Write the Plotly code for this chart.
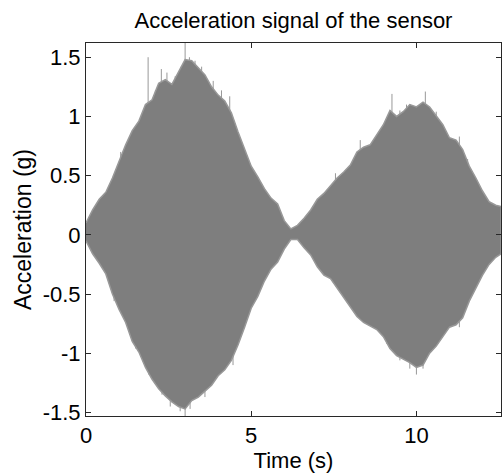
import plotly.graph_objects as go

# Envelope of the acceleration signal
time_s = [0.0, 0.2, 0.4, 0.6, 0.8, 1.0, 1.2, 1.4, 1.6, 1.8, 2.0, 2.2, 2.4, 2.6, 2.8,
          3.0, 3.2, 3.4, 3.6, 3.8, 4.0, 4.2, 4.4, 4.6, 4.8, 5.0, 5.2, 5.4, 5.6, 5.8,
          6.0, 6.2, 6.4, 6.6, 6.8, 7.0, 7.2, 7.4, 7.6, 7.8, 8.0, 8.2, 8.4, 8.6, 8.8,
          9.0, 9.2, 9.4, 9.6, 9.8, 10.0, 10.2, 10.4, 10.6, 10.8, 11.0, 11.2, 11.4,
          11.6, 11.8, 12.0, 12.2, 12.4, 12.56]
upper_g = [0.10, 0.21, 0.30, 0.36, 0.48, 0.62, 0.76, 0.88, 0.96, 1.10, 1.14, 1.28, 1.31, 1.27, 1.38,
           1.48, 1.47, 1.41, 1.35, 1.25, 1.18, 1.13, 1.03, 0.87, 0.72, 0.58, 0.49, 0.39, 0.31, 0.26,
           0.12, 0.05, 0.08, 0.14, 0.21, 0.30, 0.35, 0.42, 0.48, 0.53, 0.59, 0.70, 0.74, 0.76, 0.84,
           0.93, 1.05, 1.00, 1.04, 1.10, 1.08, 1.12, 1.08, 1.00, 0.93, 0.82, 0.80, 0.72,
           0.58, 0.48, 0.37, 0.28, 0.25, 0.24]
lower_g = [-0.05, -0.16, -0.24, -0.33, -0.50, -0.63, -0.74, -0.90, -0.99, -1.12, -1.22, -1.30, -1.36, -1.41, -1.45,
           -1.47, -1.40, -1.37, -1.32, -1.27, -1.19, -1.14, -1.06, -0.93, -0.78, -0.62, -0.52, -0.39, -0.29, -0.23,
           -0.12, -0.04, -0.04, -0.11, -0.17, -0.27, -0.34, -0.37, -0.46, -0.53, -0.61, -0.69, -0.74, -0.77, -0.80,
           -0.86, -0.96, -1.02, -1.05, -1.08, -1.12, -1.10, -1.00, -0.94, -0.86, -0.78, -0.76, -0.70,
           -0.56, -0.45, -0.34, -0.25, -0.19, -0.16]

# Individual spikes poking out of the envelope
spike_t = [1.05, 1.88, 2.1, 2.28, 2.45, 2.7, 2.88, 3.0, 3.13, 3.3, 3.5, 3.85, 4.1, 4.35,
           7.55, 8.3, 8.9, 9.26, 9.5, 9.7, 10.27, 10.6, 11.3, 11.55,
           0.85, 1.5, 1.9, 2.3, 2.55, 2.85, 3.0, 3.15, 3.6, 4.45, 9.1, 9.5, 9.8, 10.0, 10.2, 11.3]
spike_g = [0.70, 1.50, 1.22, 1.40, 1.37, 1.34, 1.42, 1.63, 1.50, 1.47, 1.42, 1.30, 1.22, 1.17,
           0.52, 0.80, 0.88, 1.19, 1.05, 1.10, 1.21, 1.04, 0.83, 0.64,
           -0.56, -0.96, -1.18, -1.35, -1.45, -1.49, -1.54, -1.47, -1.37, -1.10, -0.92, -1.06, -1.13, -1.18, -1.13, -0.78]

x_ticks = [0, 5, 10]
y_ticks = [-1.5, -1, -0.5, 0, 0.5, 1, 1.5]
y_tick_text = ["-1.5", "-1", "-0.5", "0", "0.5", "1", "1.5"]

FONT = "Liberation Sans, Arial, Helvetica, sans-serif"
BODY = "rgb(126,126,126)"
EDGE = "rgb(152,152,152)"

fig = go.Figure()

# spikes (drawn first so the body hides their inner part)
sx, sy = [], []
for t, v in zip(spike_t, spike_g):
    sx += [t, t, None]
    sy += [0, v, None]
fig.add_trace(go.Scatter(x=sx, y=sy, mode="lines",
                         line=dict(color=EDGE, width=1),
                         hoverinfo="skip", showlegend=False))

# dense signal body
fig.add_trace(go.Scatter(
    x=time_s + time_s[::-1], y=upper_g + lower_g[::-1],
    mode="lines", fill="toself", fillcolor=BODY,
    line=dict(color=EDGE, width=1.5), hoverinfo="skip", showlegend=False))

axis_common = dict(showline=True, linecolor="rgb(40,40,40)", linewidth=1,
                   mirror="ticks", ticks="inside", ticklen=5, tickcolor="rgb(40,40,40)",
                   showgrid=False, zeroline=False, automargin=False,
                   tickfont=dict(family=FONT, size=22, color="black"))

fig.update_layout(
    width=502, height=474,
    margin=dict(l=86, r=1, t=43, b=58),
    paper_bgcolor="white", plot_bgcolor="white",
    title=dict(text="Acceleration signal of the sensor", x=0.5846, xanchor="center",
               y=1 - 20 / 474, yanchor="middle",
               font=dict(family=FONT, size=22, color="black")),
    xaxis=dict(range=[0, 12.56], tickvals=x_ticks,
               title=dict(text="Time (s)", font=dict(family=FONT, size=22, color="black"), standoff=2),
               **axis_common),
    yaxis=dict(range=[-1.53, 1.62], tickvals=y_ticks, ticktext=y_tick_text,
               title=dict(text="Acceleration (g)", font=dict(family=FONT, size=23, color="black"), standoff=4),
               **axis_common),
)

fig.write_html("out.html", config={"displayModeBar": False},
               post_script="document.body.style.margin='0';document.body.style.overflow='hidden';")
